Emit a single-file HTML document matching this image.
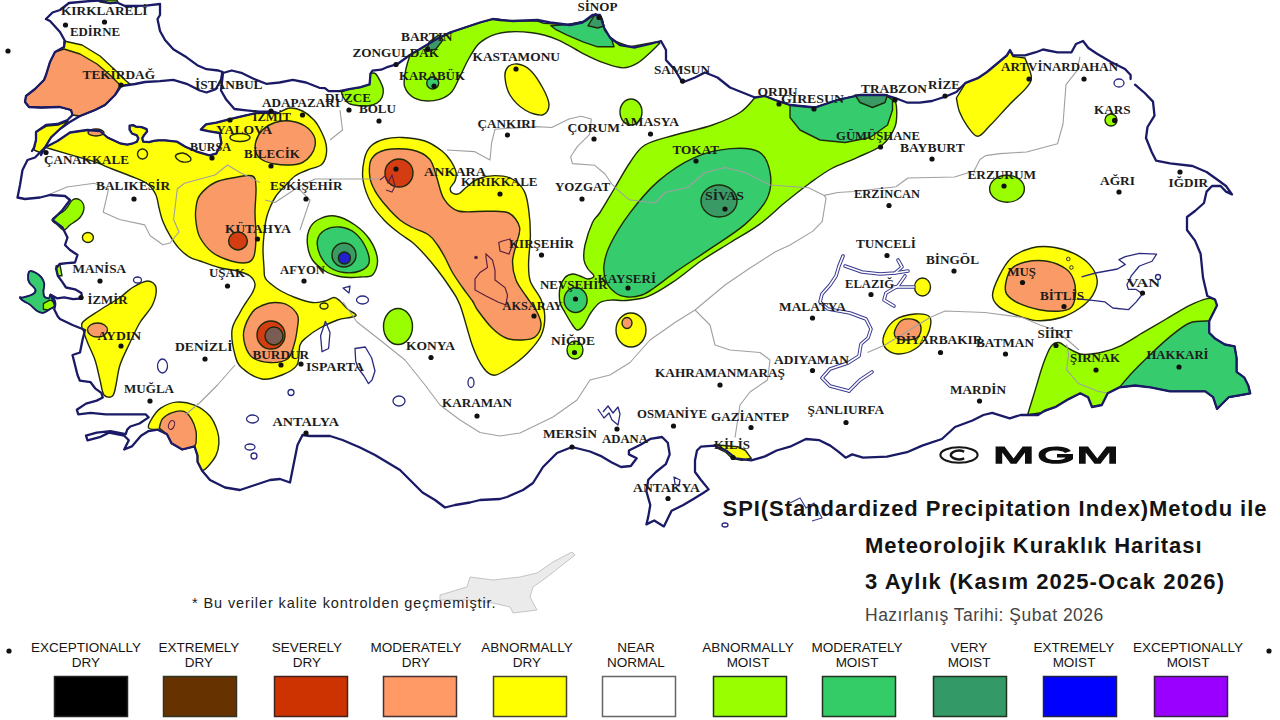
<!DOCTYPE html>
<html><head><meta charset="utf-8">
<style>
html,body{margin:0;padding:0;background:#fff;width:1280px;height:720px;overflow:hidden}
svg{display:block}
.lg{font-family:"Liberation Sans",sans-serif;font-size:13.5px;fill:#151515;text-anchor:middle}
.tt{font-family:"Liberation Sans",sans-serif;font-weight:bold;fill:#141414}
.cl{font-family:"Liberation Serif",serif;font-weight:bold;font-size:13.5px;fill:#1c1c1c}
</style></head><body>
<svg width="1280" height="720" viewBox="0 0 1280 720">
<rect width="1280" height="720" fill="#fff"/>

<polygon points="440,595 467,587 470,577 493,580 520,577 537,573 553,562 572,552 575,555 547,577 533,587 530,597 537,610 513,613 510,607 493,603 467,600 440,600" fill="#ebebeb" stroke="#c4c4c4" stroke-width="1"/>
<g stroke="#1e2a08" stroke-width="1.4" stroke-linejoin="round">
<polygon points="97,0 117,0 118,2.5 110,3.5 100,2" fill="#99ff00"/>
<polygon points="64,41 82,45 100,56 115,70 125,80 130,84 121,86 115,95 105,105 95,110 80,116 72.5,115 71,110 60,107 41,107.5 29,107 25,102 26,96 35,89 44,80 46,75 50,62 55,52 64,47" fill="#ffff0a"/>
<polygon points="64,49 80,54 97,64 110,75 120,85 115,95 105,105 95,110 80,116 72.5,115 71,110 60,107 41,107.5 29,107 25,102 26,96 35,89 44,80 46,75 50,62 55,52" fill="#fa9a66"/>
<polygon points="36,132 47,126 58,125 68,121 60,129 51,137 45,147 41,153 34,150 36,140" fill="#ffff0a"/>
<path d="M45,147.5 L57.5,141 L70,132.5 L87.5,130 L100,131 L107.5,137.5 L120,143.3 L127.1,144.6 L132,143.7 L136.9,141.7 L138.3,138.3 L136.9,135.4 L132,133.5 L129.6,129.6 L129.6,125.7 L133.5,125.2 L135.9,126.7 L141.7,127.1 L146.6,129.1 L147.1,131.5 L144.2,134.9 L142.2,138.3 L143.2,141.7 L149,142.2 L153.9,140.8 L158.7,140.3 L165,140.3 L176.7,141.6 L185.3,146.7 L197.4,151.9 L209.4,155.3 L216.3,153.6 L221.4,143.3 L219.7,133 L209.4,131.3 L200.8,129.5 L206,124.4 L216.3,122.7 L230,119.2 L243.8,115.8 L257.5,112.8 L269.5,112.8 L278.1,113 C280.1,112.2 285.9,108.3 290,108 C294.1,107.7 298.5,109.0 302.5,111 C306.5,113.0 310.9,116.7 314,120 C317.1,123.3 319.0,127.0 321,131 C323.0,135.0 325.2,139.8 326,144 C326.8,148.2 326.8,152.5 326,156 C325.2,159.5 324.1,162.7 321,165 C317.9,167.3 311.8,168.2 307.5,170 C303.2,171.8 298.8,173.3 295,176 C291.2,178.7 288.2,182.7 285,186 C281.8,189.3 278.5,192.4 276,196 C273.5,199.6 271.7,203.5 270,207.5 C268.3,211.5 267.0,215.4 266,220 C265.0,224.6 264.5,230.0 264,235 C263.5,240.0 263.0,244.6 263,250 C263.0,255.4 263.7,262.9 264,267.5 C264.3,272.1 263.8,274.8 265,277.5 C266.2,280.2 268.3,281.8 271,284 C273.7,286.2 277.0,288.8 281,291 C285.0,293.2 289.8,295.6 295,297.5 C300.2,299.4 307.5,301.9 312.5,302.5 C317.5,303.1 321.4,301.8 325,301 C328.6,300.2 331.5,297.5 334,297.5 C336.5,297.5 337.8,299.1 340,301 C342.2,302.9 344.8,306.7 347.5,309 C350.2,311.3 355.6,313.6 356,315 C356.4,316.4 353.1,316.7 350,317.5 C346.9,318.3 342.5,318.2 337.5,320 C332.5,321.8 325.1,325.2 320,328 C314.9,330.8 310.3,334.2 307,337 C303.7,339.8 301.7,340.3 300,345 C298.3,349.7 300.0,360.0 297,365 C294.0,370.0 287.8,372.7 282,375 C276.2,377.3 268.7,380.2 262,379 C255.3,377.8 246.5,372.0 242,368 C237.5,364.0 236.7,361.3 235,355 C233.3,348.7 231.2,337.1 232,330 C232.8,322.9 237.7,317.1 240,312.5 C242.3,307.9 243.9,305.8 246,302.5 C248.1,299.2 251.0,295.6 252.5,292.5 C254.0,289.4 255.4,286.8 255,284 C254.6,281.2 252.9,278.2 250,276 C247.1,273.8 242.7,272.4 237.5,271 C232.3,269.6 225.2,269.2 219,267.5 C212.8,265.8 204.8,262.7 200,261 C195.2,259.3 193.5,259.5 190,257.4 C186.5,255.3 182.3,252.0 179,248.4 C175.7,244.8 172.7,240.2 170,235.7 C167.3,231.2 164.6,225.8 162.8,221.3 C161.0,216.8 160.4,213.1 159.2,208.6 C158.0,204.1 157.7,198.4 155.6,194.2 C153.5,190.0 150.7,186.3 146.5,183.3 C142.3,180.3 136.0,178.4 130.3,176 C124.6,173.6 118.2,171.4 112.2,169 C106.2,166.6 100.2,163.8 94.2,161.7 C88.2,159.6 83.2,158.4 76,156.3 C68.8,154.2 56.0,150.5 50.8,149 C45.6,147.5 46.0,147.8 45,147.5Z" fill="#ffff0a"/>
<path d="M256,141 C257.1,137.2 259.3,133.1 262.5,130 C265.7,126.9 270.4,124.0 275,122.5 C279.6,121.0 285.0,120.4 290,121 C295.0,121.6 301.0,123.5 305,126 C309.0,128.5 312.3,132.7 314,136 C315.7,139.3 315.5,142.8 315,146 C314.5,149.2 313.1,152.2 311,155 C308.9,157.8 306.0,160.8 302.5,162.5 C299.0,164.2 294.6,164.8 290,165 C285.4,165.2 279.6,164.8 275,164 C270.4,163.2 265.7,161.9 262.5,160 C259.3,158.1 257.1,155.7 256,152.5 C254.9,149.3 254.9,144.8 256,141Z" fill="#fa9a66"/>
<path d="M200,195 C203.2,190.8 209.2,185.4 215,182.5 C220.8,179.6 228.8,178.6 235,177.5 C241.2,176.4 249.0,174.3 252.5,176 C256.0,177.7 255.6,181.4 256,187.5 C256.4,193.6 255.0,204.2 255,212.5 C255.0,220.8 256.2,230.2 256,237.5 C255.8,244.8 255.4,251.8 254,256 C252.6,260.2 251.3,261.7 247.5,262.5 C243.7,263.3 236.8,262.7 231,261 C225.2,259.3 217.7,256.4 212.5,252.5 C207.3,248.6 202.8,242.6 200,237.5 C197.2,232.4 196.7,227.0 196,222 C195.3,217.0 195.3,212.0 196,207.5 C196.7,203.0 196.8,199.2 200,195Z" fill="#fa9a66"/>
<ellipse cx="238" cy="241" rx="9.4" ry="9" fill="#d43c12"/>
<path d="M244,330 C245.2,324.5 249.5,316.1 252.5,312 C255.5,307.9 258.3,307.1 262,305.5 C265.7,303.9 270.2,302.6 274.5,302.5 C278.8,302.4 283.7,302.9 287.5,305 C291.3,307.1 295.8,311.3 297.5,315 C299.2,318.7 298.1,322.0 297.5,327 C296.9,332.0 295.7,339.7 294,345 C292.3,350.3 291.5,356.1 287.5,359 C283.5,361.9 275.8,362.8 270,362.5 C264.2,362.2 256.7,360.4 252.5,357.5 C248.3,354.6 246.4,349.6 245,345 C243.6,340.4 242.8,335.5 244,330Z" fill="#fa9a66"/>
<ellipse cx="271" cy="335" rx="14" ry="14" fill="#d43c12"/>
<ellipse cx="274" cy="336" rx="9" ry="9" fill="#7a5c55"/>
<ellipse cx="324" cy="306" rx="4" ry="3" fill="#ffff0a"/>
<ellipse cx="142.5" cy="154" rx="5" ry="5" fill="#ffff0a"/>
<ellipse cx="87.9" cy="237.5" rx="5.5" ry="5" fill="#ffff0a"/>
<path d="M176,155 C177.0,154.0 180.7,152.7 183,153 C185.3,153.3 188.8,155.7 190,157 C191.2,158.3 191.2,160.2 190,161 C188.8,161.8 185.2,162.3 183,162 C180.8,161.7 178.2,160.2 177,159 C175.8,157.8 175.0,156.0 176,155Z" fill="#ffff0a"/>
<ellipse cx="240" cy="137.5" rx="10" ry="4" fill="#ffff0a"/>
<ellipse cx="96" cy="132.5" rx="8" ry="3.5" fill="#fa9a66"/>
<path d="M82.5,322.5 C85.2,318.8 93.8,314.2 100,310 C106.2,305.8 114.6,301.2 120,297.5 C125.4,293.8 127.9,290.2 132.5,287.5 C137.1,284.8 143.6,281.0 147.5,281 C151.4,281.0 155.2,283.5 156,287.5 C156.8,291.5 155.2,299.2 152.5,305 C149.8,310.8 143.8,316.2 140,322.5 C136.2,328.8 133.3,335.4 130,342.5 C126.7,349.6 122.3,357.9 120,365 C117.7,372.1 117.2,379.8 116,385 C114.8,390.2 114.5,394.3 112.5,396 C110.5,397.7 106.1,397.7 104,395 C101.9,392.3 101.5,385.8 100,380 C98.5,374.2 97.1,366.2 95,360 C92.9,353.8 89.3,347.1 87.5,342.5 C85.7,337.9 84.8,335.8 84,332.5 C83.2,329.2 79.8,326.2 82.5,322.5Z" fill="#ffff0a"/>
<ellipse cx="97.5" cy="330" rx="10" ry="7" fill="#fa9a66"/>
<path d="M202.1,470.8 L197.5,461.7 L197.5,455.6 L194.5,446.4 L182.2,449.5 L171.5,443.3 L167,434.2 L157.8,429.6 C156.3,429.3 149.6,429.8 148.6,428 C147.6,426.2 149.7,422.2 151.7,418.9 C153.7,415.6 156.7,411.0 160.8,408.2 C164.9,405.4 170.5,402.6 176.1,402.1 C181.7,401.6 188.9,402.8 194.5,405.1 C200.1,407.4 205.9,411.5 209.7,415.8 C213.5,420.1 215.9,426.5 217.4,431.1 C218.9,435.7 219.2,439.2 218.9,443.3 C218.7,447.4 217.9,451.5 215.9,455.6 C213.9,459.7 209.0,465.3 206.7,467.8 C204.4,470.3 202.9,470.3 202.1,470.8Z" fill="#ffff0a"/>
<path d="M196,443.3 L194.5,446.4 L182.2,449.5 L171.5,443.3 L167,434.2 L159.3,428 C159.8,426.5 160.4,421.4 162.4,418.9 C164.4,416.4 167.9,414.1 171.5,412.8 C175.1,411.5 180.5,410.3 183.8,411.3 C187.1,412.3 189.4,415.6 191.4,418.9 C193.4,422.2 195.2,427.0 196,431.1 C196.8,435.2 196.0,441.3 196,443.3Z" fill="#fa9a66"/>
<path d="M364.4,158.9 C365.7,153.2 367.6,149.3 371,146 C374.4,142.7 379.8,140.4 385,139 C390.2,137.6 395.8,137.2 402.5,137.5 C409.2,137.8 418.4,138.8 425,141 C431.6,143.2 437.8,147.8 442,151 C446.2,154.2 448.0,156.7 450.3,160.2 C452.6,163.7 455.2,168.5 456,172 C456.8,175.5 455.9,178.4 455,181 C454.1,183.6 451.0,185.7 450.5,187.7 C450.0,189.7 450.6,191.8 452,192.8 C453.4,193.8 456.7,194.5 459,193.7 C461.3,192.8 462.7,190.1 465.8,187.7 C468.9,185.2 472.9,181.0 477.8,179 C482.7,177.0 489.3,175.6 495,175.6 C500.7,175.6 507.3,176.4 512.2,179 C517.1,181.6 521.5,186.1 524.2,191.1 C526.9,196.1 527.6,201.8 528.6,209 C529.6,216.2 530.4,225.5 530.4,234.6 C530.4,243.7 528.6,255.7 528.6,263.5 C528.6,271.3 528.3,275.5 530.4,281.5 C532.5,287.5 538.6,293.6 541,299.6 C543.4,305.6 544.8,311.6 544.8,317.6 C544.8,323.6 544.0,329.7 541,335.7 C538.0,341.7 532.2,348.3 526.8,353.7 C521.4,359.1 514.2,364.4 508.8,368 C503.4,371.6 498.5,375.3 494.3,375.3 C490.1,375.3 487.1,372.8 483.5,368 C479.9,363.2 476.6,357.0 472.7,346.5 C468.8,336.0 463.8,314.8 460,305 C456.2,295.2 453.8,293.3 450,287.5 C446.2,281.7 441.7,275.4 437.5,270 C433.3,264.6 429.2,259.6 425,255 C420.8,250.4 416.7,246.0 412.5,242.5 C408.3,239.0 404.6,237.3 400,233.75 C395.4,230.2 389.7,226.0 385,221 C380.3,216.0 375.3,210.8 371.6,204 C367.9,197.2 364.2,187.5 363,180 C361.8,172.5 363.1,164.6 364.4,158.9Z" fill="#ffff0a"/>
<path d="M371.6,158.9 C374.3,154.4 379.4,151.3 386,149.8 C392.6,148.3 404.1,148.3 411.3,149.8 C418.5,151.3 425.2,154.4 429.4,158.9 C433.6,163.4 434.2,170.4 436.6,177 C439.0,183.6 440.2,192.9 443.8,198.6 C447.4,204.3 451.1,208.9 458.3,211 C465.5,213.1 478.6,210.9 487,211.2 C495.4,211.5 503.4,210.3 508.8,213 C514.2,215.7 518.4,222.1 519.6,227.4 C520.8,232.7 517.2,239.2 516,245 C514.8,250.8 512.5,256.2 512.5,262 C512.5,267.8 513.8,274.3 516,280 C518.2,285.7 522.5,290.7 526,296 C529.5,301.3 534.5,307.2 537,312 C539.5,316.8 541.3,320.8 541,325 C540.7,329.2 538.2,334.5 535,337 C531.8,339.5 526.8,339.8 522,340 C517.2,340.2 511.0,340.0 506,338 C501.0,336.0 496.8,332.7 492,328 C487.2,323.3 480.8,314.5 477.5,310 C474.2,305.5 475.0,304.8 472.5,301 C470.0,297.2 465.8,292.2 462.5,287.5 C459.2,282.8 455.4,277.5 452.5,272.5 C449.6,267.5 447.5,262.1 445,257.5 C442.5,252.9 440.2,248.8 437.5,245 C434.8,241.2 432.9,237.9 428.75,235 C424.6,232.1 417.3,230.0 412.5,227.5 C407.7,225.0 404.4,223.6 400,220 C395.6,216.4 390.1,210.6 386,205.8 C381.9,201.0 378.0,196.1 375.3,191.3 C372.6,186.5 370.4,182.4 369.8,177 C369.2,171.6 368.9,163.4 371.6,158.9Z" fill="#fa9a66"/>
<ellipse cx="399" cy="173" rx="14" ry="14" fill="#d43c12"/>
<path d="M410,55 L422.5,47.5 L435,40 L450,32.5 L465,27.5 L480,22.5 L494.7,18.7 L512.5,21 L537.5,21 L543.8,23.4 L567,24.6 L586,21 L595.3,14 L602.3,18.7 L604.7,30.4 L611.7,39.8 L630.4,46.8 L656,42 L660,43 C658.6,44.4 655.2,48.1 651.4,51.5 C647.6,54.9 642.1,60.5 637.4,63.2 C632.7,65.9 628.9,67.9 623.4,67.9 C617.9,67.9 611.2,65.6 604.6,63.2 C598.0,60.9 591.4,57.7 583.6,53.8 C575.8,49.9 566.4,43.3 557.8,39.8 C549.2,36.3 541.4,34.0 532,32.8 C522.6,31.6 510.3,31.2 501.7,32.8 C493.1,34.3 486.1,37.8 480.6,42.1 C475.1,46.4 472.4,52.6 468.9,58.5 C465.4,64.3 462.7,71.4 459.6,77.2 C456.5,83.0 454.5,89.7 450.2,93.6 C445.9,97.5 439.7,99.8 433.8,100.6 C427.9,101.4 419.9,100.6 415,98.3 C410.1,96.0 406.2,91.3 404.6,86.6 C403.1,81.9 404.8,75.5 405.7,70.2 C406.6,64.9 409.3,57.5 410,55Z" fill="#99ff00"/>
<polygon points="550.8,25.7 567.2,24.6 586,21 595.3,14 601,16.4 604.6,30.4 611.7,39.8 614,46.8 597.6,46.8 583.6,42.1 567.2,35.1 555.5,29.3" fill="#36cc6e"/>
<polygon points="588,25.7 595.3,14 601,16.4 604,26 597.6,28" fill="#3a9a66"/>
<polygon points="429,42 438.5,35 443,39.8 436,49 426.8,51.5" fill="#3a9a66"/>
<ellipse cx="432.7" cy="83" rx="6" ry="6" fill="#36cc6e"/>
<path d="M341.4,92 L349.2,89.2 L360.8,87.2 L369.6,84.3 L370.5,73.6 C371.3,73.6 373.8,72.3 375.4,73.6 C377.0,74.9 379.0,78.8 380.3,81.4 C381.6,84.0 382.9,86.6 383.2,89.2 C383.5,91.8 383.2,94.7 382.2,97 C381.2,99.3 379.6,101.3 377.3,102.8 C375.0,104.2 371.7,105.2 368.6,105.7 C365.5,106.2 362.1,106.0 358.9,105.7 C355.7,105.4 351.6,104.8 349.2,103.7 C346.8,102.6 345.6,100.9 344.3,98.9 C343.0,97.0 341.9,93.2 341.4,92Z" fill="#99ff00"/>
<ellipse cx="631" cy="112" rx="11" ry="13" fill="#99ff00"/>
<path d="M755,97.5 L765,96 L775,100 L790,105 L815,107.5 L837.5,100 L860,95 L885,95 L895,99 C895.3,100.8 896.7,105.3 896.7,110 C896.7,114.7 897.3,121.2 894.9,127 C892.5,132.8 888.5,139.9 882.2,145 C875.9,150.1 865.4,153.7 857,157.6 C848.6,161.5 839.5,164.3 831.7,168.5 C823.9,172.7 817.8,177.3 810,183 C802.2,188.7 793.1,195.9 784.7,202.8 C776.3,209.7 768.4,217.8 759.4,224.4 C750.4,231.0 740.1,236.5 730.5,242.5 C720.9,248.5 711.3,253.9 701.7,260.5 C692.1,267.1 681.8,276.2 672.8,282.2 C663.8,288.2 655.5,293.6 647.5,296.7 C639.5,299.8 630.8,299.9 625,300.5 C619.2,301.1 616.7,299.7 612.5,300 C608.3,300.3 603.6,300.4 600,302.5 C596.4,304.6 593.7,308.8 591,312.5 C588.3,316.2 586.2,322.1 584,325 C581.8,327.9 579.4,330.0 577.5,330 C575.6,330.0 574.6,327.9 572.5,325 C570.4,322.1 567.1,316.2 565,312.5 C562.9,308.8 560.8,306.7 560,302.5 C559.2,298.3 559.2,291.7 560,287.5 C560.8,283.3 562.9,279.8 565,277.5 C567.1,275.2 570.0,274.2 572.5,274 C575.0,273.8 577.4,275.2 580,276 C582.6,276.8 585.7,279.0 588,279 C590.3,279.0 594.0,277.7 594,276 C594.0,274.3 589.7,271.7 588,269 C586.3,266.3 584.5,264.0 584,260 C583.5,256.0 583.6,251.2 585,245 C586.4,238.8 590.0,227.9 592.5,222.5 C595.0,217.1 596.2,218.3 600,212.5 C603.8,206.7 610.0,195.8 615,187.5 C620.0,179.2 625.0,169.6 630,162.5 C635.0,155.4 637.5,149.6 645,145 C652.5,140.4 663.8,138.3 675,135 C686.2,131.7 701.7,128.8 712.5,125 C723.3,121.2 732.9,117.1 740,112.5 C747.1,107.9 752.5,100.0 755,97.5Z" fill="#99ff00"/>
<path d="M604,265 C603.3,271.0 604.2,276.4 606,281 C607.8,285.6 611.4,289.8 615,292.5 C618.6,295.2 623.0,296.6 627.5,297 C632.0,297.4 637.6,296.5 642,295 C646.4,293.5 648.3,291.9 654,288 C659.7,284.1 667.2,277.8 676.4,271.4 C685.5,265.0 697.5,257.5 708.9,249.7 C720.3,241.9 735.4,232.8 745,224.4 C754.6,216.0 762.5,207.6 766.7,199.2 C770.9,190.8 771.5,181.7 770.3,173.9 C769.1,166.1 766.0,156.4 759.4,152.2 C752.8,148.0 741.3,147.7 730.5,148.6 C719.7,149.5 706.4,152.2 694.4,157.6 C682.4,163.0 669.1,171.8 658.3,181.1 C647.5,190.4 637.4,202.9 629.4,213.6 C621.4,224.2 614.2,236.4 610,245 C605.8,253.6 604.7,259.0 604,265Z" fill="#36cc6e"/>
<ellipse cx="719" cy="201" rx="18" ry="16" fill="#3a9a66"/>
<polygon points="790,105 790,117.5 800,130 820,140 845,142.5 870,137.5 887.5,125 892.5,110 892.5,100 885,95 860,95 837.5,100 815,107.5" fill="#36cc6e"/>
<polygon points="855,95 860,102.5 872.5,107.5 885,102.5 887.5,95" fill="#3a9a66"/>
<ellipse cx="575.6" cy="300" rx="11.5" ry="12.5" fill="#36cc6e"/>
<ellipse cx="575" cy="350" rx="8" ry="9" fill="#99ff00"/>
<ellipse cx="631" cy="330" rx="15" ry="17" fill="#ffff0a"/>
<ellipse cx="627" cy="323" rx="5" ry="5.5" fill="#fa9a66"/>
<ellipse cx="398" cy="326.5" rx="14.5" ry="18" fill="#99ff00"/>
<ellipse cx="1007" cy="188.75" rx="17.4" ry="13.5" fill="#99ff00"/>
<ellipse cx="1111" cy="120" rx="6" ry="6" fill="#99ff00"/>
<path d="M52.5,219 C53.8,216.5 61.7,213.2 65,210 C68.3,206.8 70.0,201.7 72.5,200 C75.0,198.3 78.1,198.8 80,200 C81.9,201.2 84.0,204.6 84,207.5 C84.0,210.4 82.3,214.6 80,217.5 C77.7,220.4 72.7,222.9 70,225 C67.3,227.1 66.1,230.0 64,230 C61.9,230.0 59.4,226.8 57.5,225 C55.6,223.2 51.2,221.5 52.5,219Z" fill="#99ff00"/>
<path d="M29.9,271.2 C31.2,270.7 34.2,271.9 36.2,273 C38.2,274.1 40.2,275.8 41.6,277.6 C43.0,279.4 44.0,281.6 44.3,283.9 C44.6,286.1 43.4,289.0 43.4,291.1 C43.4,293.2 43.4,295.3 44.3,296.5 C45.2,297.7 47.8,298.6 48.8,298.3 C49.8,298.0 49.7,294.6 50.6,294.7 C51.5,294.8 53.5,297.4 54.2,299.2 C55.0,301.0 55.9,303.9 55.1,305.6 C54.4,307.3 51.7,308.0 49.7,309.2 C47.8,310.4 45.5,312.5 43.4,312.8 C41.3,313.1 39.4,312.4 37.1,311 C34.9,309.6 32.2,306.3 29.9,304.6 C27.6,302.9 25.2,302.2 23.5,301 C21.8,299.8 19.9,298.0 19.9,297.4 C19.9,296.8 21.2,298.0 23.5,297.4 C25.8,296.8 31.5,295.1 33.5,293.8 C35.5,292.5 36.0,291.2 35.3,289.3 C34.5,287.4 30.2,284.4 29,282.1 C27.8,279.9 28.0,277.6 28.1,275.8 C28.2,274.0 28.5,271.7 29.9,271.2Z" fill="#36cc6e"/>
<polygon points="43.4,303.7 49.7,300.1 55.1,301.9 54.2,307.2 47.9,310 43.4,309.2" fill="#99ff00"/>
<polygon points="56,266 60,265 62,275.8 57.8,275.8" fill="#99ff00"/>
<path d="M309,230 C310.7,225.8 313.2,222.3 317.5,220 C321.8,217.7 328.8,215.2 335,216 C341.2,216.8 349.2,221.0 355,225 C360.8,229.0 366.2,234.2 370,240 C373.8,245.8 377.1,254.2 377.5,260 C377.9,265.8 375.4,272.2 372.5,275 C369.6,277.8 363.8,276.6 360,277 C356.2,277.4 353.8,277.7 350,277.5 C346.2,277.3 341.7,277.1 337.5,276 C333.3,274.9 329.2,273.7 325,271 C320.8,268.3 315.4,264.3 312.5,260 C309.6,255.7 308.1,250.0 307.5,245 C306.9,240.0 307.3,234.2 309,230Z" fill="#99ff00"/>
<path d="M317.5,240 C318.3,235.8 321.2,232.2 325,230 C328.8,227.8 335.0,226.5 340,227 C345.0,227.5 350.7,229.5 355,233 C359.3,236.5 363.7,243.0 366,248 C368.3,253.0 370.0,259.2 369,263 C368.0,266.8 364.2,269.4 360,271 C355.8,272.6 349.0,273.1 344,272.5 C339.0,271.9 334.0,270.4 330,267.5 C326.0,264.6 322.1,259.6 320,255 C317.9,250.4 316.7,244.2 317.5,240Z" fill="#36cc6e"/>
<ellipse cx="344" cy="255" rx="12" ry="12" fill="#3a9a66"/>
<ellipse cx="344.4" cy="258" rx="6" ry="6" fill="#2020cc"/>
<ellipse cx="922.5" cy="287" rx="8" ry="9" fill="#ffff0a"/>
<path d="M884,335 C885.7,330.4 889.8,323.5 895,320 C900.2,316.5 909.2,314.4 915,314 C920.8,313.6 927.9,314.0 930,317.5 C932.1,321.0 930.0,329.8 927.5,335 C925.0,340.2 920.0,345.8 915,349 C910.0,352.2 902.5,354.2 897.5,354 C892.5,353.8 887.2,350.7 885,347.5 C882.8,344.3 882.3,339.6 884,335Z" fill="#ffff0a"/>
<path d="M895,330 C896.1,327.1 899.2,321.7 902.5,320 C905.8,318.3 911.9,318.8 915,320 C918.1,321.2 920.6,324.6 921,327.5 C921.4,330.4 920.2,335.4 917.5,337.5 C914.8,339.6 908.6,340.0 905,340 C901.4,340.0 897.7,339.2 896,337.5 C894.3,335.8 893.9,332.9 895,330Z" fill="#fa9a66"/>
<path d="M992.5,295.6 C992.5,290.7 995.6,283.2 998.75,276.9 C1001.9,270.6 1005.8,262.8 1011.25,258 C1016.7,253.2 1024.6,249.8 1031.6,248 C1038.6,246.2 1046.4,246.3 1053.4,247.2 C1060.4,248.1 1067.8,250.5 1073.75,253.4 C1079.8,256.3 1085.5,260.0 1089.4,264.4 C1093.3,268.8 1096.7,274.8 1097.2,280 C1097.7,285.2 1095.4,290.9 1092.5,295.6 C1089.6,300.3 1085.2,304.4 1080,308 C1074.8,311.6 1068.5,315.4 1061.25,317.5 C1054.0,319.6 1044.1,321.1 1036.25,320.6 C1028.4,320.1 1020.6,316.7 1014.4,314.4 C1008.1,312.1 1002.4,309.7 998.75,306.6 C995.1,303.5 992.5,300.6 992.5,295.6Z" fill="#ffff0a"/>
<path d="M1005.8,283 C1006.6,278.8 1008.0,272.5 1011.25,269 C1014.5,265.5 1019.3,263.3 1025.3,262 C1031.3,260.7 1040.4,260.1 1047.2,261.25 C1054.0,262.4 1061.6,265.9 1066,269 C1070.4,272.1 1072.2,275.6 1073.75,280 C1075.3,284.4 1075.8,290.9 1075.3,295.6 C1074.8,300.3 1073.5,305.4 1070.6,308 C1067.7,310.6 1063.2,311.0 1058,311.25 C1052.8,311.5 1045.9,311.0 1039.4,309.7 C1032.9,308.4 1024.5,306.0 1019,303.4 C1013.5,300.8 1008.8,297.4 1006.6,294 C1004.4,290.6 1005.0,287.2 1005.8,283Z" fill="#fa9a66"/>
<path d="M1025,58 L1013,56.5 L1010,51 L1006.8,56 L996,64.5 L987,72 L977.8,78.2 L965.6,82.8 L956.4,98 C956.9,100.3 957.7,107.2 959.5,111.8 C961.3,116.4 964.0,121.5 967,125.6 C970.0,129.7 974.0,136.3 977.8,136.3 C981.6,136.3 984.6,131.0 990,125.6 C995.4,120.2 1003.9,110.4 1010,104 C1016.1,97.6 1023.2,92.0 1026.7,87.4 C1030.2,82.9 1031.6,81.6 1031.3,76.7 C1031.0,71.8 1026.0,61.1 1025,58Z" fill="#ffff0a"/>
<path d="M507.5,67.5 C509.6,65.2 513.8,63.6 517.5,64 C521.2,64.4 525.8,66.1 530,70 C534.2,73.9 539.3,81.7 542.5,87.5 C545.7,93.3 549.0,100.4 549,105 C549.0,109.6 546.5,114.2 542.5,115 C538.5,115.8 530.4,113.3 525,110 C519.6,106.7 513.3,100.4 510,95 C506.7,89.6 505.4,82.1 505,77.5 C504.6,72.9 505.4,69.8 507.5,67.5Z" fill="#ffff0a"/>
<polygon points="714.4,444.7 737.7,446.7 745.5,450.5 751.3,458.3 741.6,460.3 732,458.3 726,452.5 718.3,448.6" fill="#ffff0a"/>
<path d="M1215,299.5 L1217,305.4 L1213.1,313.2 L1209.2,321 L1209.2,332.7 L1215,338.6 L1224.8,344.5 L1234.6,346.4 L1236.6,358.1 L1236.6,371.8 L1244.4,377.7 L1248.3,385.5 L1250.2,393.3 L1240.5,395.2 L1228.7,397.2 L1220.9,405 L1217,408.9 L1213.1,397.2 L1205.3,391.3 L1185.8,391.3 L1170.1,391.3 L1150.6,387.4 L1135,385.5 L1119.4,387.4 L1107.7,393.3 L1101.8,405 L1092,407 L1088.1,397.2 L1080.3,393.3 L1068.6,399.1 L1054.9,407 L1041.2,412.8 L1027.6,414.8 C1028.9,410.6 1032.8,397.9 1035.4,389.4 C1038.0,380.9 1040.6,371.2 1043.2,364 C1045.8,356.8 1048.4,350.0 1051,346.4 C1053.6,342.8 1055.9,342.2 1058.8,342.5 C1061.7,342.8 1064.7,346.4 1068.6,348.4 C1072.5,350.3 1076.8,353.5 1082.3,354.2 C1087.8,354.9 1095.6,353.6 1101.8,352.3 C1108.0,351.0 1112.6,349.7 1119.4,346.4 C1126.2,343.1 1135.0,337.3 1142.8,332.7 C1150.6,328.1 1158.4,323.6 1166.2,319 C1174.0,314.4 1182.9,308.8 1189.7,305.4 C1196.5,302.0 1203.1,299.6 1207.3,298.6 C1211.5,297.6 1213.7,299.4 1215,299.5Z" fill="#99ff00"/>
<path d="M1209.2,321 L1209.2,332.7 L1215,338.6 L1224.8,344.5 L1234.6,346.4 L1236.6,358.1 L1236.6,371.8 L1244.4,377.7 L1248.3,385.5 L1250.2,393.3 L1240.5,395.2 L1228.7,397.2 L1220.9,405 L1217,408.9 L1213.1,397.2 L1205.3,391.3 L1185.8,391.3 L1170.1,391.3 L1150.6,387.4 L1135,385.5 L1119.4,387.4 C1121.7,384.8 1127.8,377.3 1133,371.8 C1138.2,366.3 1144.4,360.1 1150.6,354.2 C1156.8,348.3 1163.6,341.8 1170.1,336.6 C1176.6,331.4 1183.2,325.6 1189.7,323 C1196.2,320.4 1206.0,321.3 1209.2,321Z" fill="#36cc6e"/>
</g>
<polygon points="486,254 492.5,260 495,270 495,280 505,287.5 507.5,295 506,305 498,302 486,296 475,290 475,279 480,272.5 487.5,267.5 486,257.5" fill="none" stroke="#5a2040" stroke-width="1.2"/>
<polygon points="498.75,242.5 502.5,241 510,239 512.5,245 509,254 500,251" fill="none" stroke="#5a2040" stroke-width="1.2"/>
<circle cx="476" cy="257.5" r="1.8" fill="#5a2040"/>
<ellipse cx="171.5" cy="425" rx="2.8" ry="4.5" transform="rotate(20 171.5 425)" fill="none" stroke="#5a2040" stroke-width="1"/>
<polyline points="380,180 385,176 388,183 392,175 395,186 392,192 386,190" fill="none" stroke="#5a2040" stroke-width="1.1"/>
<polyline points="790,503 800,498 806,508 814,503 822,518 812,521" fill="none" stroke="#3a3a90" stroke-width="1.1"/>
<g fill="none" stroke="#a0a0a0" stroke-width="1.1" stroke-linejoin="round">
<polyline points="45.4,196 67,187 94.2,183.3 108.6,188.8 103.2,212.2 119.5,219.5 144.7,224.9 150.2,235.7 162.8,244.7 170,243 179,232 173.6,219.5 177.3,188.8 184.5,183.3 215,175 227.5,165 240,172.5 260,182.5"/>
<polyline points="265,200 275,202.5 297.5,187.5 315,179 337.5,179 380,179"/>
<polyline points="340,110 342.5,130 330,140"/>
<polyline points="447,150 474.4,151.6 490,160 491.6,143 495,129.2 536.3,126.6 551.7,127.5 569,119 581,116.3 591.3,119 589.6,134.4 577.5,146.4 570.6,156.7 572.4,163.6 594.7,165.3 605,174 612,184.2 617,189.4"/>
<polyline points="617,189.4 629,199.7 655,203 665,192.5 687.5,187.5 705,172.5 725,167.5 745,172.5 770,185 808.6,187.7 824.2,195.4 837.8,192.5 853.4,191.5 896,186.7 907.8,178 954.5,177 974,171 980,159.5 985.6,155.6 1000,153.6 1026.6,152 1057.5,143.75 1063,124 1066,84.7 1077,70.6 1080,56.6"/>
<polyline points="824.2,195.4 826,198.4 822.2,221.7 812.5,231.4 790,245 775,252 750,268 725,285 695,310 675,322.5 650,340 630,362.5 610,375 590,380 577,400 553,417 520,433 500,436 480,432.5 460,420 440,405 425,385 405,360 380,340 357,322 343,302"/>
<polyline points="695,310 710,325 715,345 730,350 760,352.5 770,360 767.5,380 750,392 740,405 735,437.5"/>
<polyline points="235,365 217.5,385 200,402.5 185,415"/>
<polyline points="867.5,352.5 885,345 930,317.5 945,311 985,312.5 1022.5,317.5 1040,325 1055,330 1067.5,340 1079,350"/>
<polyline points="1066.6,344.4 1068.6,354.2 1066.6,369.8 1078.4,383.5 1097.9,391.3 1107.7,393.3"/>
<polyline points="297.5,187.5 310,200 305,215 300,230"/>
</g>
<g fill="none" stroke="#2a2a80" stroke-width="1.3" stroke-linejoin="round">
<polyline points="1081.6,276.9 1095.6,273 1117.5,269 1125.3,264.4 1119,259.7 1125.3,256.6 1139.4,253.4 1156.6,254.2 1152,261.25 1139.4,266 1131.6,275.3 1126.9,284.7 1128.4,289.4 1136.25,289.4 1142.5,294 1136.25,301.9 1128.4,309.7 1112.8,308 1105,301.9 1092.5,300.3 1076.9,298.75"/>
<polygon points="355,348.5 365.3,347 371.7,358 375,371 372,380 368.5,383.6 364,376 358,368 355.7,361"/>
<polygon points="325.4,321.3 330,332.5 328.6,348.5 322,351.7 320.6,335.7"/>
<polyline points="597.8,409 604,418 609,413 612,420 618,425 620,414 618,407 613,413 608,406 603,412"/>
<polygon points="674,477 680,480 679,486 675,484"/>
<polygon points="343,288 350,286 349,293"/>
<ellipse cx="1068.3" cy="259" rx="1.8" ry="1.8" fill="none" stroke="#333" stroke-width="1"/>
<ellipse cx="1071.4" cy="267.5" rx="1.8" ry="1.8" fill="none" stroke="#333" stroke-width="1"/>
<ellipse cx="1158" cy="277" rx="2.5" ry="2.5" fill="#fff"/>
<ellipse cx="725" cy="525" rx="3" ry="2" fill="#fff"/>
<ellipse cx="291" cy="392.5" rx="3" ry="3" fill="#fff"/>
<ellipse cx="252.5" cy="419" rx="6" ry="4" fill="#fff"/>
<ellipse cx="250" cy="447" rx="5" ry="3" fill="#fff"/>
<ellipse cx="254" cy="456" rx="3" ry="3" fill="#fff"/>
<ellipse cx="399" cy="401" rx="6" ry="5" fill="#fff"/>
<ellipse cx="162.5" cy="366" rx="5" ry="7" fill="#fff"/>
<ellipse cx="137.5" cy="280" rx="4" ry="3" fill="#fff"/>
<ellipse cx="1119" cy="83" rx="5" ry="4" fill="#fff"/>
<ellipse cx="362.5" cy="300" rx="6" ry="4" fill="#fff"/>
<ellipse cx="471" cy="382.5" rx="3" ry="5" fill="#fff"/>
</g>
<g fill="none" stroke-linejoin="round" stroke-linecap="round">
<polyline points="843,256 839,266 836,276 830,285 822,294 820,302 828,309 850,313 866,319 871,329 868,338 861,344 859,356 848,363 830,369 822,378 830,386 849,391" stroke="#3a3a90" stroke-width="3.6"/>
<polyline points="845,266 862,272 880,274 895,273 902,267 898,260" stroke="#3a3a90" stroke-width="3.6"/>
<polyline points="895,273 908,271" stroke="#3a3a90" stroke-width="3.6"/>
<polyline points="905,276 898,286 886,293 884,300 894,306" stroke="#3a3a90" stroke-width="3.6"/>
<polyline points="893,287 914,287" stroke="#3a3a90" stroke-width="3.6"/>
<polyline points="849,391 860,380 872,372" stroke="#3a3a90" stroke-width="3.6"/>
<polyline points="843,256 839,266 836,276 830,285 822,294 820,302 828,309 850,313 866,319 871,329 868,338 861,344 859,356 848,363 830,369 822,378 830,386 849,391" stroke="#fff" stroke-width="1.6"/>
<polyline points="845,266 862,272 880,274 895,273 902,267 898,260" stroke="#fff" stroke-width="1.6"/>
<polyline points="895,273 908,271" stroke="#fff" stroke-width="1.6"/>
<polyline points="905,276 898,286 886,293 884,300 894,306" stroke="#fff" stroke-width="1.6"/>
<polyline points="893,287 914,287" stroke="#fff" stroke-width="1.6"/>
<polyline points="849,391 860,380 872,372" stroke="#fff" stroke-width="1.6"/>
</g>
<g fill="none" stroke="#1a1a66" stroke-width="2.3" stroke-linejoin="round" stroke-linecap="round">
<polyline points="46,19 52.5,12.5 60,10 69,3 90,1 99,0.5 110,3 117,2.5 125,6 146,5.6 160,4 160,15 157.5,19 160,31 165,40 173.3,49.3 186.6,57.3 197.2,65.2 206.5,69.2 218.4,70.5 222.4,72"/>
<polyline points="46,19 50,21 60,32 65,41 64,47 55,52 50,62 46,75 44,80 35,89 26,96 25,102 29,107 41,107.5 60,107 71,110 72.5,115 67.5,120 57.5,124 46,125 36,132 36,140 34,147.5 32,151"/>
<polyline points="222.4,72 221,79.8 215.8,89.1 206.5,92.5 199.8,90.5 186.6,83.8 173.3,79.8 160,81.2 145,82 135,84 121,86 115,95 105,105 95,110 80,116 69,122.5 60,129 51,137.5 45,147.5 41,155"/>
<polyline points="45,147.5 35,157.5 27.5,160 22.5,170 20,185 17.5,197.5 25,199 40,197.5 50,195 65,196 70,200 62.5,210 52.5,220 62.5,227.5 67.5,237.5 65,245 70,250 77.5,255 75,262.5 66.9,263.1 59.6,264 56,268.5 57.8,275.8 62.4,282.1 66,287.5 75,289.3 81.3,292.9 82.2,298.3 73.2,299.2 64.2,297.4 57,298.3 50.6,294.7 55.1,305.6 54.2,309.2 57.8,316.4 60,319 72.5,325 85,330 82.5,340 80,352.5 72.5,355 75,365 77.5,375 79.9,380.7 90.6,382.2 95.1,388.3 101.3,392.9 102.8,397.5 96.7,400.6 86,403.6 76.8,409.7 78.3,414.3 90.6,412.8 105.8,414.3 124.2,414.3 145.6,414.3 148.6,417.4 139.5,423.5 130.3,426.5 127.2,429.6 125.7,434.2 110.4,431.1 96.7,432.6 86,435.7 87.5,440.3 99.7,437.2 108.9,432.6 124.2,435.7 128.8,440.3 124.2,449.5 131.8,446.4 141,435.7 148.6,431.1 157.8,429.6 167,434.2 171.5,443.3 182.2,449.5 194.5,446.4 197.5,455.6 197.5,461.7 202.1,470.8 210,480 225,487.5 240,490 255,485 270,480 280,479 290,482.5 292.5,470 295,457.5 297.5,445 302.5,435 310,436 330,436 342.5,440 360,447.5 375,455 387.5,462.5 400,470 410,480 422.5,492.5 435,500 445,507.5 455,505 470,502.5 480,500 500,499 507,497 523,490 533,483 543,467 557,453 572,447 590,451.5 601.7,456.4 611.4,462.2 621,467 630.8,466 636.7,458.3 628.9,454.4 628.9,450.5 640.5,444.7 650.3,438.9 662,437 667.8,442.8 669.7,454.4 665.8,464.2 656,472 648.3,479.7 646.4,491.4 650.3,505 648.3,516.6 646.4,524.4 654.2,520.5 663.9,526.4 667.8,518.6 671.6,510.8 683.3,505 693,499.2 702.8,493.3 708.6,489.4 700.8,479.7 695,472 695,460.3 697,450.5 700.8,446.7 714.4,445.7 726,450.5 735.8,458.3 751.3,460.3 765,456.4 776.6,450.5 790,446.7 806,439 819.4,440.2 830.3,445.6 839,452.2 845.6,457.7 852.2,454.4 863,457.7 887,456.6 907,452.2 922.2,445.6 941.9,439 955,427 972.5,420.5 983.4,415 992.2,412.8 1009.7,418.3 1020.6,415 1038,415 1044.7,410.6 1056,406.8 1068.6,399.1 1080.3,393.3 1088.1,397.2 1092,407 1101.8,405 1107.7,393.3 1119.4,387.4 1135,385.5 1150.6,387.4 1170.1,391.3 1185.8,391.3 1205.3,391.3 1213.1,397.2 1217,408.9 1220.9,405 1228.7,397.2 1240.5,395.2 1250.2,393.3 1248.3,385.5 1244.4,377.7 1236.6,371.8 1236.6,358.1 1234.6,346.4 1224.8,344.5 1215,338.6 1209.2,332.7 1209.2,321 1213.1,313.2 1217,305.4 1215,299.5 1207.3,296 1203,277.5 1200.6,253.75 1195,240.6 1187,230 1187,217 1195,211 1204,203 1206.6,191.6 1212,186 1220.6,186 1226,191.6 1232,194.4 1226,186 1217.8,180 1206.6,172 1192.5,166 1170,163.4 1156,160.6 1151.7,152 1146,138 1147.5,127 1154.5,115.6 1153,101.6 1144.7,93 1135,84.7"/>
<polyline points="1130.6,79 1130.6,75 1125,69 1111,62 1097,53.75 1088.4,48 1083,41 1076,44 1071.5,52.3 1057.5,52.3 1043,49.5 1036,52.2 1025,55.3 1013,55.3 1010,50 1006.8,55.3 996,64.5 987,72 977.8,78.2 965.6,82.8 956.4,92 945.7,96.5 932,101 919.7,102.7 907.5,102.7 895.3,98 885,95 860,95 837.5,100 815,107.5 790,105 775,100 765,96 755,97.5 742.5,92.5 730,87.5 717.5,77.5 705,72.5 695,77.5 682.5,82.5 675,70 666,60 666,50 661,41 650,44 635,47.5 620,45 610,37.5 604,27.5 600,15 592.5,15 582.5,22.5 570,25 550,22.5 537.5,20 512.5,21 500,20 492.5,19 480,22.5 465,27.5 450,32.5 435,40 422.5,47.5 410,55 397.5,64 388,66.8 381.2,69.7 372.5,70.7 370.5,73.6 369.6,84.3 360.8,87.2 349.2,89.2 339.4,91.1 328.7,91.1 324.9,88.2 319.4,87.8 306,82.5 292.8,79.8 279.5,82.5 266.2,83.8 253,78.5 242.3,73.2 231.7,70.5 223,73 221,90.5 226.4,99.8 234.4,109 246.3,110.4 259.6,111.7 272.9,111.7 278.1,113 269.5,112.8 257.5,112.8 243.8,115.8 230,119.2 216.3,122.7 206,124.4 200.8,129.5 209.4,131.3 219.7,133 221.4,143.3 216.3,153.6 209.4,155.3 197.4,151.9 185.3,146.7 176.7,141.6 165,140.3 158.7,140.3 153.9,140.8 149,142.2 143.2,141.7 142.2,138.3 144.2,134.9 147.1,131.5 146.6,129.1 141.7,127.1 135.9,126.7 133.5,125.2 129.6,125.7 129.6,129.6 132,133.5 136.9,135.4 138.3,138.3 136.9,141.7 132,143.7 127.1,144.6 120,143.3 107.5,137.5 100,131 87.5,130 70,132.5 57.5,141 45,147.5"/>
<path d="M29.9,271.2 C31.2,270.7 34.2,271.9 36.2,273 C38.2,274.1 40.2,275.8 41.6,277.6 C43.0,279.4 44.0,281.6 44.3,283.9 C44.6,286.1 43.4,289.0 43.4,291.1 C43.4,293.2 43.4,295.3 44.3,296.5 C45.2,297.7 47.8,298.6 48.8,298.3 C49.8,298.0 49.7,294.6 50.6,294.7 C51.5,294.8 53.5,297.4 54.2,299.2 C55.0,301.0 55.9,303.9 55.1,305.6 C54.4,307.3 51.7,308.0 49.7,309.2 C47.8,310.4 45.5,312.5 43.4,312.8 C41.3,313.1 39.4,312.4 37.1,311 C34.9,309.6 32.2,306.3 29.9,304.6 C27.6,302.9 25.2,302.2 23.5,301 C21.8,299.8 19.9,298.0 19.9,297.4 C19.9,296.8 21.2,298.0 23.5,297.4 C25.8,296.8 31.5,295.1 33.5,293.8 C35.5,292.5 36.0,291.2 35.3,289.3 C34.5,287.4 30.2,284.4 29,282.1 C27.8,279.9 28.0,277.6 28.1,275.8 C28.2,274.0 28.5,271.7 29.9,271.2Z" stroke-width="1.8"/>
</g>
<g fill="#111">
<circle cx="65.5" cy="25" r="2.6"/>
<circle cx="104.5" cy="22" r="2.6"/>
<circle cx="121" cy="85" r="2.6"/>
<circle cx="46" cy="152.5" r="2.6"/>
<circle cx="212" cy="158" r="2.6"/>
<circle cx="271" cy="166" r="2.6"/>
<circle cx="134" cy="199" r="2.6"/>
<circle cx="257.5" cy="239" r="2.6"/>
<circle cx="306" cy="199" r="2.6"/>
<circle cx="271" cy="111" r="2.6"/>
<circle cx="302.5" cy="115" r="2.6"/>
<circle cx="230" cy="120" r="2.6"/>
<circle cx="100" cy="281" r="2.6"/>
<circle cx="81" cy="297.5" r="2.6"/>
<circle cx="121" cy="346" r="2.6"/>
<circle cx="205" cy="359" r="2.6"/>
<circle cx="150" cy="401" r="2.6"/>
<circle cx="227.5" cy="286" r="2.6"/>
<circle cx="304" cy="281" r="2.6"/>
<circle cx="281" cy="365" r="2.6"/>
<circle cx="301" cy="364" r="2.6"/>
<circle cx="306" cy="433" r="2.6"/>
<circle cx="396" cy="64.5" r="2.6"/>
<circle cx="427.5" cy="49" r="2.6"/>
<circle cx="434" cy="86" r="2.6"/>
<circle cx="516" cy="69" r="2.6"/>
<circle cx="349" cy="110" r="2.6"/>
<circle cx="379" cy="121" r="2.6"/>
<circle cx="507.5" cy="135" r="2.6"/>
<circle cx="594" cy="139" r="2.6"/>
<circle cx="599" cy="17.5" r="2.6"/>
<circle cx="396" cy="169" r="2.6"/>
<circle cx="500" cy="194" r="2.6"/>
<circle cx="582" cy="199" r="2.6"/>
<circle cx="541.5" cy="255" r="2.6"/>
<circle cx="575.5" cy="299" r="2.6"/>
<circle cx="628" cy="288" r="2.6"/>
<circle cx="534" cy="316" r="2.6"/>
<circle cx="574.5" cy="352.5" r="2.6"/>
<circle cx="431" cy="357.5" r="2.6"/>
<circle cx="477" cy="416" r="2.6"/>
<circle cx="572" cy="447" r="2.6"/>
<circle cx="617" cy="429" r="2.6"/>
<circle cx="673.5" cy="426" r="2.6"/>
<circle cx="751" cy="427.5" r="2.6"/>
<circle cx="733" cy="457.5" r="2.6"/>
<circle cx="668" cy="498.5" r="2.6"/>
<circle cx="846" cy="422.5" r="2.6"/>
<circle cx="720" cy="385" r="2.6"/>
<circle cx="682.5" cy="81" r="2.6"/>
<circle cx="650.5" cy="134" r="2.6"/>
<circle cx="696" cy="161" r="2.6"/>
<circle cx="779" cy="104" r="2.6"/>
<circle cx="814" cy="109" r="2.6"/>
<circle cx="895" cy="100" r="2.6"/>
<circle cx="945" cy="96" r="2.6"/>
<circle cx="880.5" cy="147" r="2.6"/>
<circle cx="932" cy="159" r="2.6"/>
<circle cx="725" cy="209" r="2.6"/>
<circle cx="889" cy="205.5" r="2.6"/>
<circle cx="887" cy="255.5" r="2.6"/>
<circle cx="1029" cy="79" r="2.6"/>
<circle cx="1084" cy="79" r="2.6"/>
<circle cx="1114.6" cy="120.4" r="2.6"/>
<circle cx="1004" cy="186" r="2.6"/>
<circle cx="1119" cy="192" r="2.6"/>
<circle cx="1180" cy="172" r="2.6"/>
<circle cx="954" cy="271" r="2.6"/>
<circle cx="871" cy="294.5" r="2.6"/>
<circle cx="812.5" cy="318" r="2.6"/>
<circle cx="940.5" cy="352.5" r="2.6"/>
<circle cx="1005.5" cy="354" r="2.6"/>
<circle cx="1056" cy="345.5" r="2.6"/>
<circle cx="1022.5" cy="282.5" r="2.6"/>
<circle cx="1064" cy="306.5" r="2.6"/>
<circle cx="1142.5" cy="293" r="2.6"/>
<circle cx="1096" cy="370" r="2.6"/>
<circle cx="1179" cy="367" r="2.6"/>
<circle cx="812.5" cy="370.5" r="2.6"/>
<circle cx="979.5" cy="401" r="2.6"/>
<circle cx="8" cy="51" r="2.6"/>
</g>
<g class="cl">
<text x="61" y="15" textLength="86.5" lengthAdjust="spacingAndGlyphs">KIRKLARELİ</text>
<text x="70" y="36" textLength="50.0" lengthAdjust="spacingAndGlyphs">EDİRNE</text>
<text x="82.5" y="79" textLength="72.5" lengthAdjust="spacingAndGlyphs">TEKİRDAĞ</text>
<text x="195" y="89" textLength="67.5" lengthAdjust="spacingAndGlyphs">İSTANBUL</text>
<text x="262" y="107" textLength="78.0" lengthAdjust="spacingAndGlyphs">ADAPAZARI</text>
<text x="252.5" y="121" textLength="38.5" lengthAdjust="spacingAndGlyphs">İZMİT</text>
<text x="216" y="134" textLength="56.0" lengthAdjust="spacingAndGlyphs">YALOVA</text>
<text x="190" y="151" textLength="41.0" lengthAdjust="spacingAndGlyphs">BURSA</text>
<text x="244" y="157.5" textLength="56.0" lengthAdjust="spacingAndGlyphs">BİLECİK</text>
<text x="44" y="163.5" textLength="85.0" lengthAdjust="spacingAndGlyphs">ÇANAKKALE</text>
<text x="96" y="190" textLength="74.0" lengthAdjust="spacingAndGlyphs">BALIKESİR</text>
<text x="270" y="190" textLength="72.5" lengthAdjust="spacingAndGlyphs">ESKİŞEHİR</text>
<text x="225" y="232.5" textLength="66.0" lengthAdjust="spacingAndGlyphs">KÜTAHYA</text>
<text x="72.5" y="273" textLength="53.5" lengthAdjust="spacingAndGlyphs">MANİSA</text>
<text x="209" y="277" textLength="36.0" lengthAdjust="spacingAndGlyphs">UŞAK</text>
<text x="280" y="274" textLength="45.0" lengthAdjust="spacingAndGlyphs">AFYON</text>
<text x="87.5" y="304" textLength="40.0" lengthAdjust="spacingAndGlyphs">İZMİR</text>
<text x="97.5" y="339.5" textLength="43.5" lengthAdjust="spacingAndGlyphs">AYDIN</text>
<text x="175" y="351" textLength="57.5" lengthAdjust="spacingAndGlyphs">DENİZLİ</text>
<text x="252.5" y="359" textLength="56.5" lengthAdjust="spacingAndGlyphs">BURDUR</text>
<text x="306" y="370.5" textLength="58.0" lengthAdjust="spacingAndGlyphs">ISPARTA</text>
<text x="124" y="393" textLength="50.0" lengthAdjust="spacingAndGlyphs">MUĞLA</text>
<text x="272.5" y="426" textLength="66.5" lengthAdjust="spacingAndGlyphs">ANTALYA</text>
<text x="352.5" y="57" textLength="86.5" lengthAdjust="spacingAndGlyphs">ZONGULDAK</text>
<text x="401" y="41" textLength="51.5" lengthAdjust="spacingAndGlyphs">BARTIN</text>
<text x="399" y="80" textLength="66.0" lengthAdjust="spacingAndGlyphs">KARABÜK</text>
<text x="472.5" y="61" textLength="87.5" lengthAdjust="spacingAndGlyphs">KASTAMONU</text>
<text x="325" y="101.5" textLength="46.0" lengthAdjust="spacingAndGlyphs">DÜZCE</text>
<text x="359" y="112.5" textLength="37.0" lengthAdjust="spacingAndGlyphs">BOLU</text>
<text x="477.5" y="127.5" textLength="58.5" lengthAdjust="spacingAndGlyphs">ÇANKIRI</text>
<text x="567.5" y="132" textLength="52.5" lengthAdjust="spacingAndGlyphs">ÇORUM</text>
<text x="577.5" y="10.5" textLength="40.0" lengthAdjust="spacingAndGlyphs">SİNOP</text>
<text x="424" y="176" textLength="62.0" lengthAdjust="spacingAndGlyphs">ANKARA</text>
<text x="461" y="186" textLength="76.5" lengthAdjust="spacingAndGlyphs">KIRIKKALE</text>
<text x="555" y="190.5" textLength="55.0" lengthAdjust="spacingAndGlyphs">YOZGAT</text>
<text x="509" y="247.5" textLength="65.0" lengthAdjust="spacingAndGlyphs">KIRŞEHİR</text>
<text x="540" y="289" textLength="67.5" lengthAdjust="spacingAndGlyphs">NEVŞEHİR</text>
<text x="597.5" y="282.5" textLength="58.5" lengthAdjust="spacingAndGlyphs">KAYSERİ</text>
<text x="502.5" y="310" textLength="60.0" lengthAdjust="spacingAndGlyphs">AKSARAY</text>
<text x="551" y="345" textLength="44.0" lengthAdjust="spacingAndGlyphs">NİĞDE</text>
<text x="406" y="349.5" textLength="49.0" lengthAdjust="spacingAndGlyphs">KONYA</text>
<text x="442" y="407" textLength="70.0" lengthAdjust="spacingAndGlyphs">KARAMAN</text>
<text x="543" y="438" textLength="54.0" lengthAdjust="spacingAndGlyphs">MERSİN</text>
<text x="602" y="443" textLength="46.0" lengthAdjust="spacingAndGlyphs">ADANA</text>
<text x="637" y="418" textLength="70.0" lengthAdjust="spacingAndGlyphs">OSMANİYE</text>
<text x="711" y="420.5" textLength="78.0" lengthAdjust="spacingAndGlyphs">GAZİANTEP</text>
<text x="714" y="449" textLength="36.0" lengthAdjust="spacingAndGlyphs">KİLİS</text>
<text x="633" y="492" textLength="67.0" lengthAdjust="spacingAndGlyphs">ANTAKYA</text>
<text x="807.5" y="414" textLength="76.5" lengthAdjust="spacingAndGlyphs">ŞANLIURFA</text>
<text x="655" y="377" textLength="130.0" lengthAdjust="spacingAndGlyphs">KAHRAMANMARAŞ</text>
<text x="654" y="74" textLength="56.0" lengthAdjust="spacingAndGlyphs">SAMSUN</text>
<text x="621" y="126" textLength="58.0" lengthAdjust="spacingAndGlyphs">AMASYA</text>
<text x="672.5" y="154" textLength="46.5" lengthAdjust="spacingAndGlyphs">TOKAT</text>
<text x="757.5" y="96" textLength="40.0" lengthAdjust="spacingAndGlyphs">ORDU</text>
<text x="781" y="102.5" textLength="63.0" lengthAdjust="spacingAndGlyphs">GİRESUN</text>
<text x="861" y="93" textLength="66.0" lengthAdjust="spacingAndGlyphs">TRABZON</text>
<text x="928" y="89" textLength="32.0" lengthAdjust="spacingAndGlyphs">RİZE</text>
<text x="836" y="140" textLength="84.0" lengthAdjust="spacingAndGlyphs">GÜMÜŞHANE</text>
<text x="900" y="152" textLength="64.7" lengthAdjust="spacingAndGlyphs">BAYBURT</text>
<text x="705" y="200" textLength="39.0" lengthAdjust="spacingAndGlyphs">SİVAS</text>
<text x="854" y="197.5" textLength="66.0" lengthAdjust="spacingAndGlyphs">ERZİNCAN</text>
<text x="856" y="247.5" textLength="60.0" lengthAdjust="spacingAndGlyphs">TUNCELİ</text>
<text x="1001" y="71" textLength="51.0" lengthAdjust="spacingAndGlyphs">ARTVİN</text>
<text x="1052" y="71" textLength="66.0" lengthAdjust="spacingAndGlyphs">ARDAHAN</text>
<text x="1094" y="114" textLength="36.6" lengthAdjust="spacingAndGlyphs">KARS</text>
<text x="967.5" y="179" textLength="68.5" lengthAdjust="spacingAndGlyphs">ERZURUM</text>
<text x="1100" y="184.5" textLength="35.0" lengthAdjust="spacingAndGlyphs">AĞRI</text>
<text x="1168.6" y="187" textLength="39.4" lengthAdjust="spacingAndGlyphs">IĞDIR</text>
<text x="926" y="264" textLength="53.0" lengthAdjust="spacingAndGlyphs">BİNGÖL</text>
<text x="845" y="287.5" textLength="49.0" lengthAdjust="spacingAndGlyphs">ELAZIĞ</text>
<text x="779" y="311" textLength="67.0" lengthAdjust="spacingAndGlyphs">MALATYA</text>
<text x="896" y="344" textLength="86.5" lengthAdjust="spacingAndGlyphs">DİYARBAKIR</text>
<text x="976" y="347" textLength="58.0" lengthAdjust="spacingAndGlyphs">BATMAN</text>
<text x="1037.5" y="337.5" textLength="35.0" lengthAdjust="spacingAndGlyphs">SİİRT</text>
<text x="1007.5" y="276" textLength="28.5" lengthAdjust="spacingAndGlyphs">MUŞ</text>
<text x="1040" y="300" textLength="44.0" lengthAdjust="spacingAndGlyphs">BİTLİS</text>
<text x="1126.7" y="286.7" textLength="33.3" lengthAdjust="spacingAndGlyphs">VAN</text>
<text x="1070" y="362" textLength="50.0" lengthAdjust="spacingAndGlyphs">ŞIRNAK</text>
<text x="1146.5" y="359" textLength="62.0" lengthAdjust="spacingAndGlyphs">HAKKARİ</text>
<text x="774" y="364" textLength="75.0" lengthAdjust="spacingAndGlyphs">ADIYAMAN</text>
<text x="950" y="394" textLength="56.0" lengthAdjust="spacingAndGlyphs">MARDİN</text>
</g>
<g>
<ellipse cx="959" cy="455" rx="18.6" ry="7.7" fill="none" stroke="#151515" stroke-width="2.1"/>
<path d="M964.2,451.6 A8.3,4.3 0 1 0 964.2,458.4" fill="none" stroke="#151515" stroke-width="2.5"/>
<polygon fill="#0d0d0d" points="995.6,446.6 1004.5,446.6 1013.6,458.5 1022.7,446.6 1031.7,446.6 1031.7,463.8 1025,463.8 1025,452.5 1016.5,463.8 1010.7,463.8 1002.2,452.5 1002.2,463.8 995.6,463.8"/>
<path d="M1071,451 C1068,447.5 1062,446.6 1056,446.6 C1046,446.6 1038.6,449.5 1038.6,455.2 C1038.6,461 1046,463.8 1056,463.8 C1064,463.8 1070,462 1073,459 L1073,454 L1057,454 L1057,457.5 L1065.5,457.5 C1064,459.5 1060,460 1056,460 C1049,460 1045.5,458 1045.5,455.2 C1045.5,452.4 1049,450.4 1056,450.4 C1060,450.4 1064,451.5 1065,453 Z" fill="#0d0d0d"/>
<polygon fill="#0d0d0d" points="1079,446.6 1088,446.6 1097.3,458.5 1106.6,446.6 1116,446.6 1116,463.8 1109.3,463.8 1109.3,452.5 1100.5,463.8 1094.5,463.8 1085.7,452.5 1085.7,463.8 1079,463.8"/>
</g>
<g>
<text class="tt" x="722.5" y="516.2" font-size="22" textLength="544" lengthAdjust="spacing">SPI(Standardized Precipitation Index)Metodu ile</text>
<text class="tt" x="865" y="552.6" font-size="22" textLength="336.5" lengthAdjust="spacing">Meteorolojik Kuraklık Haritası</text>
<text class="tt" x="865" y="589.1" font-size="22" textLength="359" lengthAdjust="spacing">3 Aylık (Kasım 2025-Ocak 2026)</text>
<text x="865" y="621.2" font-size="17.5" font-family="Liberation Sans" fill="#444" textLength="238.3" lengthAdjust="spacing">Hazırlanış Tarihi: Şubat 2026</text>
<text x="192" y="607.5" font-size="14.5" font-family="Liberation Sans" fill="#222" textLength="303.5" lengthAdjust="spacing">* Bu veriler kalite kontrolden geçmemiştir.</text>
</g>
<g>
<circle cx="9" cy="651" r="2.6" fill="#111"/><circle cx="1269" cy="651" r="2.6" fill="#111"/>
<g class="lg">
<text x="86" y="652">EXCEPTIONALLY</text><text x="86" y="667">DRY</text>
<text x="199" y="652">EXTREMELY</text><text x="199" y="667">DRY</text>
<text x="307" y="652">SEVERELY</text><text x="307" y="667">DRY</text>
<text x="416" y="652">MODERATELY</text><text x="416" y="667">DRY</text>
<text x="527" y="652">ABNORMALLY</text><text x="527" y="667">DRY</text>
<text x="636" y="652">NEAR</text><text x="636" y="667">NORMAL</text>
<text x="748" y="652">ABNORMALLY</text><text x="748" y="667">MOIST</text>
<text x="857" y="652">MODERATELY</text><text x="857" y="667">MOIST</text>
<text x="969" y="652">VERY</text><text x="969" y="667">MOIST</text>
<text x="1074" y="652">EXTREMELY</text><text x="1074" y="667">MOIST</text>
<text x="1188" y="652">EXCEPTIONALLY</text><text x="1188" y="667">MOIST</text>
</g>
<rect x="54.5" y="676.5" width="73" height="40" fill="#000" stroke="#222" stroke-width="1.5"/>
<rect x="163.5" y="676.5" width="73" height="40" fill="#663300" stroke="#332" stroke-width="1.5"/>
<rect x="274.5" y="676.5" width="73" height="40" fill="#cc3300" stroke="#422" stroke-width="1.5"/>
<rect x="383.5" y="676.5" width="73" height="40" fill="#ff9966" stroke="#433" stroke-width="1.5"/>
<rect x="493.5" y="676.5" width="73" height="40" fill="#ffff00" stroke="#443" stroke-width="1.5"/>
<rect x="602.5" y="676.5" width="73" height="40" fill="#fff" stroke="#666" stroke-width="1.5"/>
<rect x="713.5" y="676.5" width="73" height="40" fill="#99ff00" stroke="#232" stroke-width="1.5"/>
<rect x="822.5" y="676.5" width="73" height="40" fill="#33cc66" stroke="#232" stroke-width="1.5"/>
<rect x="933.5" y="676.5" width="73" height="40" fill="#339966" stroke="#232" stroke-width="1.5"/>
<rect x="1043.5" y="676.5" width="73" height="40" fill="#0000ff" stroke="#224" stroke-width="1.5"/>
<rect x="1154.5" y="676.5" width="73" height="40" fill="#9900ff" stroke="#324" stroke-width="1.5"/>
</g>
</svg>
</body></html>
